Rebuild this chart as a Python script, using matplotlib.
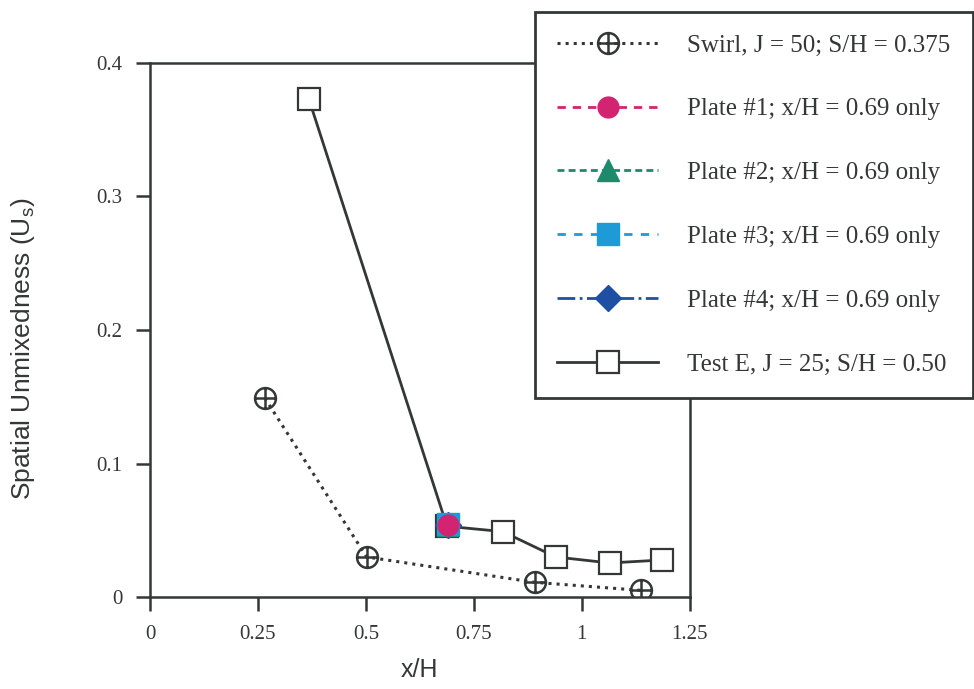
import numpy as np
import matplotlib.pyplot as plt
from matplotlib.path import Path

# data
swirl_x = [0.266, 0.502, 0.891, 1.137]
swirl_y = [0.149, 0.030, 0.011, 0.005]

teste_x = [0.368, 0.688, 0.817, 0.940, 1.065, 1.185]
teste_y = [0.373, 0.053, 0.049, 0.030, 0.0255, 0.0277]

plate_x = [0.69]
plate1_y = [0.054]
plate2_y = [0.054]
plate3_y = [0.055]
plate4_y = [0.054]

xticks = [0, 0.25, 0.5, 0.75, 1, 1.25]
yticks = [0, 0.1, 0.2, 0.3, 0.4]

serif = ['Liberation Serif', 'DejaVu Serif']
sans = ['Liberation Sans', 'DejaVu Sans']
dark = '#333836'

# circle with a cross inside
circ = Path.unit_circle()
hbar = Path([[-1, 0], [1, 0]], [Path.MOVETO, Path.LINETO])
vbar = Path([[0, -1], [0, 1]], [Path.MOVETO, Path.LINETO])
oplus = Path.make_compound_path(circ, hbar, vbar)

fig = plt.figure(figsize=(9.74, 6.89), dpi=100)
ax = fig.add_axes([0.154, 0.1335, 0.554, 0.7751])

ax.plot(swirl_x, swirl_y, ls=':', lw=2.2, color=dark, marker=oplus, ms=15,
        mfc='none', mec=dark, mew=1.8, label='Swirl, J = 50; S/H = 0.375', zorder=3)
ax.plot(teste_x, teste_y, ls='-', lw=2.0, color=dark, marker='s', ms=16,
        mfc='white', mec=dark, mew=1.6, label='Test E, J = 25; S/H = 0.50', zorder=3)

ax.plot(plate_x, plate4_y, ls='-.', lw=2, color='#1f4fa3', marker='D', ms=13,
        mec='#1f4fa3', label='Plate #4; x/H = 0.69 only', zorder=4)
ax.plot(plate_x, plate2_y, ls=(0, (2.5, 1.5)), lw=2, color='#1e8a6c', marker='^', ms=16,
        mec='#1e8a6c', label='Plate #2; x/H = 0.69 only', zorder=5)
ax.plot(plate_x, plate3_y, ls=(0, (3, 3)), lw=2, color='#1e9bd7', marker='s', ms=16,
        mec='#1e9bd7', label='Plate #3; x/H = 0.69 only', zorder=6)
ax.plot(plate_x, plate1_y, ls=(0, (3, 2.5)), lw=2, color='#d22470', marker='o', ms=15,
        mec='#d22470', label='Plate #1; x/H = 0.69 only', zorder=7)

ax.set_xlim(0, 1.25)
ax.set_ylim(0, 0.4)
ax.set_xticks(xticks)
ax.set_xticklabels(['%g' % v for v in xticks])
ax.set_yticks(yticks)
ax.set_yticklabels(['%g' % v for v in yticks])
ax.tick_params(direction='out', length=10, width=1.8, colors=dark, labelsize=15)
ax.tick_params(axis='x', pad=10)
ax.tick_params(axis='y', pad=10)
for lab in ax.get_xticklabels() + ax.get_yticklabels():
    lab.set_fontfamily(serif)
for s in ax.spines.values():
    s.set_linewidth(1.8)
    s.set_color(dark)

ax.set_xlabel('x/H', fontsize=18, family=sans, color=dark, labelpad=10)
ax.set_ylabel('Spatial Unmixedness (U$_\\mathregular{s}$)', fontsize=19, family=sans,
              color=dark)
ax.yaxis.set_label_coords(-0.21, 0.465)

h, l = ax.get_legend_handles_labels()
order = [0, 5, 3, 4, 2, 1]
leg = fig.legend([h[i] for i in order], [l[i] for i in order],
                 loc='upper left', bbox_to_anchor=(0.549, 0.983),
                 prop={'family': serif, 'size': 18}, handlelength=4.05,
                 handletextpad=1.15, labelspacing=1.65, borderpad=0.9,
                 fancybox=False, framealpha=1, edgecolor=dark, borderaxespad=0)
leg.get_frame().set_linewidth(2.0)
for t in leg.get_texts():
    t.set_color(dark)

fig.savefig('out.png', dpi=100)
